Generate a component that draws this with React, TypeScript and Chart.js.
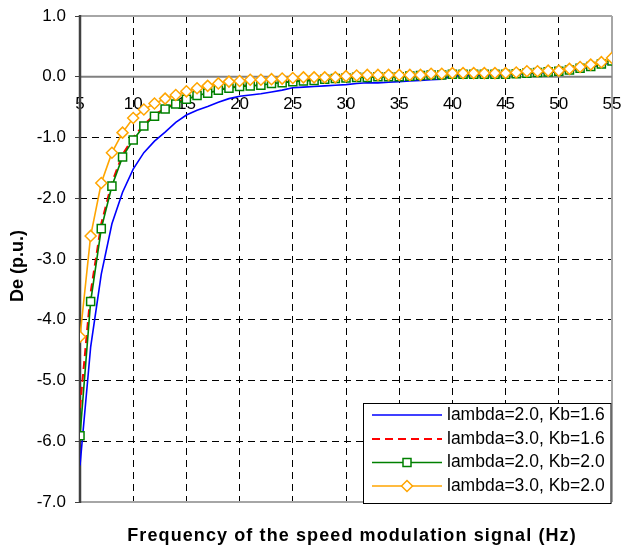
import React, { useEffect, useRef } from 'react';
import { Chart, registerables } from 'chart.js';

Chart.register(...registerables);

const frequencies = [5, 6, 7, 8, 9, 10, 11, 12, 13, 14, 15, 16, 17, 18, 19, 20, 21, 22, 23, 24, 25, 26, 27, 28, 29, 30, 31, 32, 33, 34, 35, 36, 37, 38, 39, 40, 41, 42, 43, 44, 45, 46, 47, 48, 49, 50, 51, 52, 53, 54, 55];

const lambda2Kb16 = [-6.40, -4.45, -3.25, -2.42, -1.90, -1.52, -1.25, -1.06, -0.91, -0.75, -0.63, -0.55, -0.49, -0.42, -0.36, -0.32, -0.30, -0.28, -0.25, -0.22, -0.18, -0.17, -0.16, -0.15, -0.14, -0.13, -0.11, -0.10, -0.10, -0.09, -0.08, -0.07, -0.06, -0.05, -0.04, 0.01, 0.02, 0.02, 0.03, 0.03, 0.03, 0.04, 0.05, 0.06, 0.07, 0.08, 0.10, 0.13, 0.16, 0.19, 0.24];

const lambda3Kb16 = [-5.45, -3.55, -2.42, -1.74, -1.28, -1.00, -0.79, -0.63, -0.52, -0.43, -0.36, -0.30, -0.25, -0.21, -0.18, -0.15, -0.14, -0.13, -0.10, -0.09, -0.07, -0.06, -0.05, -0.035, -0.025, -0.015, -0.005, -0.005, 0.005, 0.005, 0.005, 0.015, 0.025, 0.035, 0.035, 0.045, 0.045, 0.045, 0.045, 0.045, 0.045, 0.055, 0.065, 0.075, 0.085, 0.095, 0.115, 0.145, 0.175, 0.215, 0.265];

const lambda2Kb20 = [-5.91, -3.70, -2.50, -1.80, -1.32, -1.04, -0.81, -0.65, -0.53, -0.45, -0.37, -0.31, -0.27, -0.22, -0.19, -0.16, -0.15, -0.14, -0.11, -0.10, -0.08, -0.07, -0.06, -0.04, -0.03, -0.02, -0.01, -0.01, 0.00, 0.00, 0.00, 0.01, 0.02, 0.03, 0.03, 0.04, 0.04, 0.04, 0.04, 0.04, 0.04, 0.05, 0.06, 0.07, 0.08, 0.09, 0.11, 0.14, 0.17, 0.21, 0.26];

const lambda3Kb20 = [-4.28, -2.62, -1.75, -1.25, -0.92, -0.68, -0.54, -0.44, -0.36, -0.30, -0.24, -0.19, -0.15, -0.11, -0.08, -0.07, -0.05, -0.05, -0.04, -0.03, -0.02, -0.01, -0.01, -0.01, -0.01, 0.01, 0.02, 0.03, 0.03, 0.03, 0.03, 0.03, 0.03, 0.05, 0.05, 0.06, 0.06, 0.06, 0.06, 0.06, 0.06, 0.07, 0.09, 0.09, 0.10, 0.10, 0.13, 0.16, 0.20, 0.24, 0.31];

const seriesLabels = ['lambda=2.0, Kb=1.6', 'lambda=3.0, Kb=1.6', 'lambda=2.0, Kb=2.0', 'lambda=3.0, Kb=2.0'];
const xTitle = 'Frequency of the speed modulation signal (Hz)';
const yTitle = 'De (p.u.)';

const FONT = '"Liberation Sans", Arial, sans-serif';

const toPoints = (ys: number[]) => frequencies.map((f, i) => ({ x: f, y: ys[i] }));

const framePlugin = {
  id: 'frame',
  beforeDatasetsDraw(chart: any) {
    const { ctx, chartArea } = chart;
    const { left, right, top, bottom } = chartArea;
    const y0 = chart.scales.y.getPixelForValue(0);
    ctx.save();
    ctx.lineCap = 'butt';
    ctx.strokeStyle = '#a6a6a6';
    ctx.lineWidth = 2;
    ctx.beginPath();
    ctx.moveTo(left, top);
    ctx.lineTo(right, top);
    ctx.moveTo(right, top);
    ctx.lineTo(right, bottom);
    ctx.moveTo(left, bottom);
    ctx.lineTo(right, bottom);
    ctx.stroke();
    ctx.strokeStyle = '#808080';
    ctx.lineWidth = 2;
    ctx.beginPath();
    ctx.moveTo(left, y0);
    ctx.lineTo(right, y0);
    ctx.stroke();
    ctx.strokeStyle = '#404040';
    ctx.lineWidth = 2.5;
    ctx.beginPath();
    ctx.moveTo(left, top - 1);
    ctx.lineTo(left, bottom + 1);
    ctx.stroke();
    ctx.restore();
  },
};

const overlayPlugin = {
  id: 'overlay',
  afterDraw(chart: any) {
    const { ctx } = chart;
    ctx.save();
    // axis titles
    ctx.fillStyle = '#000';
    ctx.font = 'bold 18px ' + FONT;
    ctx.textAlign = 'center';
    ctx.textBaseline = 'middle';
    try { (ctx as any).letterSpacing = '1.1px'; } catch (e) {}
    ctx.fillText(xTitle, 352, 536);
    try { (ctx as any).letterSpacing = '0px'; } catch (e) {}
    ctx.save();
    ctx.translate(18.5, 266);
    ctx.rotate(-Math.PI / 2);
    ctx.fillText(yTitle, 0, 0);
    ctx.restore();

    // legend
    const bx = 363, by = 403, bw = 248.5, bh = 101;
    ctx.fillStyle = '#fff';
    ctx.fillRect(bx, by, bw, bh);
    ctx.strokeStyle = '#000';
    ctx.lineWidth = 1;
    ctx.strokeRect(bx + 0.5, by + 0.5, bw - 1, bh - 1);
    const rows = [415, 439, 462.5, 486];
    chart.data.datasets.forEach((ds: any, i: number) => {
      const yy = rows[i];
      ctx.save();
      ctx.strokeStyle = ds.borderColor;
      ctx.lineWidth = ds.borderWidth;
      ctx.setLineDash(ds.borderDash || []);
      ctx.beginPath();
      ctx.moveTo(372, yy);
      ctx.lineTo(442, yy);
      ctx.stroke();
      ctx.setLineDash([]);
      if (ds.pointStyle === 'rect') {
        const s = 4;
        ctx.fillStyle = '#fff';
        ctx.fillRect(407 - s, yy - s, 2 * s, 2 * s);
        ctx.lineWidth = ds.pointBorderWidth;
        ctx.strokeRect(407 - s, yy - s, 2 * s, 2 * s);
      } else if (ds.pointStyle === 'rectRot') {
        const r = 5.5;
        ctx.fillStyle = '#fff';
        ctx.beginPath();
        ctx.moveTo(407 - r, yy);
        ctx.lineTo(407, yy - r);
        ctx.lineTo(407 + r, yy);
        ctx.lineTo(407, yy + r);
        ctx.closePath();
        ctx.fill();
        ctx.lineWidth = ds.pointBorderWidth;
        ctx.stroke();
      }
      ctx.restore();
      ctx.fillStyle = '#000';
      ctx.font = '17.5px ' + FONT;
      ctx.textAlign = 'left';
      ctx.textBaseline = 'middle';
      ctx.fillText(ds.label, 447, yy);
    });
    ctx.restore();
  },
};

export default function App() {
  const canvasRef = useRef<HTMLCanvasElement | null>(null);

  useEffect(() => {
    document.body.style.margin = '0';
    const canvas = canvasRef.current;
    if (!canvas) return;
    const chart = new Chart(canvas, {
      type: 'line',
      data: {
        datasets: [
          {
            label: seriesLabels[0],
            data: toPoints(lambda2Kb16),
            borderColor: '#0000ff',
            borderWidth: 1.6,
            pointRadius: 0,
            tension: 0,
            order: 3,
          } as any,
          {
            label: seriesLabels[1],
            data: toPoints(lambda3Kb16),
            borderColor: '#ff0000',
            borderWidth: 2,
            borderDash: [8, 5],
            pointRadius: 0,
            tension: 0,
            order: 2,
          },
          {
            label: seriesLabels[2],
            data: toPoints(lambda2Kb20),
            borderColor: '#008000',
            borderWidth: 1.6,
            pointStyle: 'rect',
            pointRadius: 5.7,
            pointBorderWidth: 1.5,
            pointBorderColor: '#008000',
            pointBackgroundColor: '#ffffff',
            tension: 0,
            order: 1,
          },
          {
            label: seriesLabels[3],
            data: toPoints(lambda3Kb20),
            borderColor: '#ffa500',
            borderWidth: 1.6,
            pointStyle: 'rectRot',
            pointRadius: 5.5,
            pointBorderWidth: 1.5,
            pointBorderColor: '#ffa500',
            pointBackgroundColor: '#ffffff',
            tension: 0,
            order: 0,
          },
        ],
      },
      options: {
        responsive: false,
        animation: false,
        events: [],
        layout: { padding: { left: 0, top: 16, right: 9, bottom: 46 } },
        plugins: {
          legend: { display: false },
          tooltip: { enabled: false },
          title: { display: false },
        },
        scales: {
          x: {
            type: 'linear',
            position: { y: 0 } as any,
            min: 5,
            max: 55,
            ticks: {
              stepSize: 5,
              color: '#000',
              font: { family: FONT, size: 17 },
              padding: 17,
              maxRotation: 0,
              autoSkip: false,
            },
            grid: {
              drawTicks: false,
              lineWidth: 1,
              color: (c: any) => (c.tick && (c.tick.value === 5 || c.tick.value === 55) ? 'rgba(0,0,0,0)' : '#000'),
            },
            border: { display: false, dash: [7, 5] },
            afterFit: (s: any) => {
              s.height = 0;
              s.paddingLeft = 0;
              s.paddingRight = 0;
              s.paddingTop = 0;
              s.paddingBottom = 0;
            },
          },
          y: {
            type: 'linear',
            position: 'left',
            min: -7,
            max: 1,
            ticks: {
              stepSize: 1,
              color: '#000',
              font: { family: FONT, size: 17 },
              padding: 9,
              callback: (v: any) => Number(v).toFixed(1),
            },
            grid: {
              drawTicks: true,
              tickLength: 5,
              tickColor: '#404040',
              tickWidth: 1,
              lineWidth: 1,
              color: (c: any) =>
                c.tick && (c.tick.value === 1 || c.tick.value === 0 || c.tick.value === -7) ? 'rgba(0,0,0,0)' : '#000',
            },
            border: { display: false, dash: [7, 5] },
            afterFit: (s: any) => {
              s.width = 80;
              s.paddingTop = 0;
              s.paddingBottom = 0;
            },
          },
        },
      },
      plugins: [framePlugin, overlayPlugin],
    });
    return () => chart.destroy();
  }, []);

  return (
    <div style={{ position: 'absolute', left: 0, top: 0, width: 621, height: 548, background: '#fff' }}>
      <canvas ref={canvasRef} width={621} height={548} style={{ display: 'block' }} />
    </div>
  );
}
